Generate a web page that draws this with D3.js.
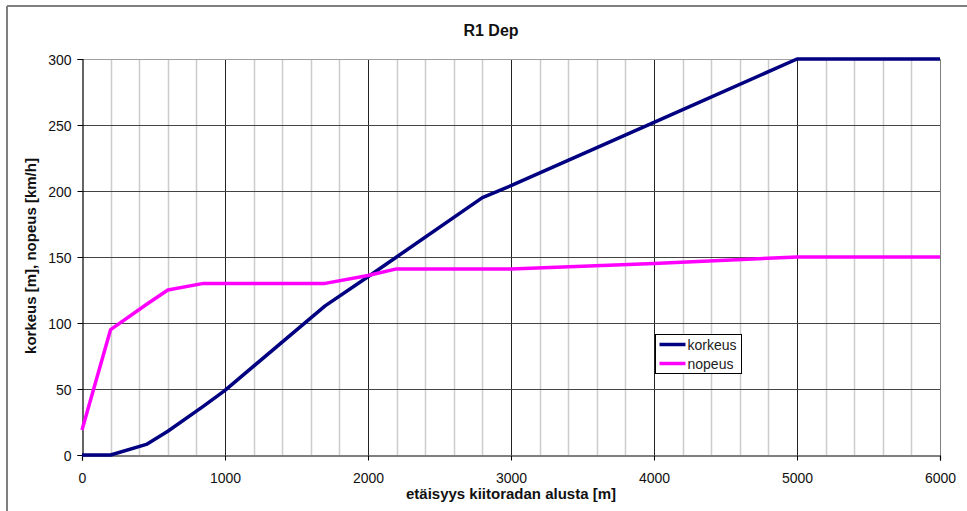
<!DOCTYPE html>
<html>
<head>
<meta charset="utf-8">
<script src="https://cdn.jsdelivr.net/npm/d3@7/dist/d3.min.js"></script>
<style>
  html, body { margin: 0; padding: 0; background: #fff; }
  svg { display: block; font-family: "Liberation Sans", Arial, sans-serif; }
</style>
</head>
<body>
<svg id="chart" width="967" height="511"></svg>
<script>
// Distance along the runway [m]
const distance = [0, 200, 450, 600, 850, 1000, 1700, 2000, 2200, 2800, 3000, 4000, 5000, 6000];
// Altitude [m]
const korkeus  = [0, 0, 8, 18, 37, 49, 113, 135, 150, 195, 204, 252, 300, 300];
// Speed [km/h]
const nopeus   = [19, 95, 114, 125, 130, 130, 130, 136, 141, 141, 141, 145, 150, 150];

const xTicks = [0, 1000, 2000, 3000, 4000, 5000, 6000];
const yTicks = [0, 50, 100, 150, 200, 250, 300];

const seriesNames = ["korkeus", "nopeus"];
const seriesColors = ["#000080", "#ff00ff"];

const svg = d3.select("#chart");
const margin = { left: 82, right: 27, top: 59, bottom: 56 };
const W = 967, H = 511;

const x = d3.scaleLinear().domain([0, 6000]).range([margin.left, W - margin.right]);
const y = d3.scaleLinear().domain([0, 300]).range([H - margin.bottom, margin.top]);

// outer frame (top and left edges)
svg.append("line").attr("x1", 7).attr("x2", W).attr("y1", 6).attr("y2", 6)
  .attr("stroke", "#7f7f7f").attr("stroke-width", 2);
svg.append("line").attr("x1", 7).attr("x2", 7).attr("y1", 6).attr("y2", H)
  .attr("stroke", "#7f7f7f").attr("stroke-width", 2);

// minor vertical gridlines every 200 m
const minor = d3.range(200, 6000, 200).filter(d => d % 1000 !== 0);
svg.append("g").selectAll("line").data(minor).join("line")
  .attr("x1", d => Math.round(x(d)) + 0.5).attr("x2", d => Math.round(x(d)) + 0.5)
  .attr("y1", y(300)).attr("y2", y(0))
  .attr("stroke", "#cccccc").attr("stroke-width", 1.5);

// major vertical gridlines
svg.append("g").selectAll("line").data(xTicks.slice(1)).join("line")
  .attr("x1", d => Math.round(x(d)) + 0.5).attr("x2", d => Math.round(x(d)) + 0.5)
  .attr("y1", y(300)).attr("y2", y(0))
  .attr("stroke", d => d === 6000 ? "#808080" : "#222").attr("stroke-width", 1);

// horizontal gridlines
svg.append("g").selectAll("line").data(yTicks.slice(1)).join("line")
  .attr("x1", x(0)).attr("x2", x(6000))
  .attr("y1", d => Math.round(y(d)) + 0.5).attr("y2", d => Math.round(y(d)) + 0.5)
  .attr("stroke", d => d === 300 ? "#a0a0a0" : "#444").attr("stroke-width", 1.2);

// axes
const xAxis = d3.axisBottom(x).tickValues(xTicks).tickSize(5).tickPadding(13).tickFormat(d3.format("d"));
const yAxis = d3.axisLeft(y).tickValues(yTicks).tickSize(5).tickPadding(6).tickFormat(d3.format("d"));

const gx = svg.append("g").attr("transform", `translate(0,${Math.round(y(0)) + 0.5})`).call(xAxis);
const gy = svg.append("g").attr("transform", `translate(${Math.round(x(0)) + 0.5},0)`).call(yAxis);
[gx, gy].forEach(g => {
  g.select(".domain").attr("stroke", "#000").attr("stroke-width", 1.2);
  g.selectAll(".tick line").attr("stroke", "#000");
  g.selectAll(".tick text").attr("fill", "#111").attr("font-size", 14)
    .attr("font-family", "'Liberation Sans', Arial, sans-serif");
});
gy.selectAll(".tick text").attr("dy", "0.36em");

// series lines
const line = vals => d3.line().x((d, i) => x(distance[i])).y(d => y(d))(vals);
[korkeus, nopeus].forEach((vals, i) => {
  svg.append("path").attr("d", line(vals))
    .attr("fill", "none").attr("stroke", seriesColors[i])
    .attr("stroke-width", 3.5).attr("stroke-linejoin", "round");
});

// title and axis labels
svg.append("text").attr("x", 491).attr("y", 36).attr("text-anchor", "middle")
  .attr("font-weight", "bold").attr("font-size", 16).attr("fill", "#111").text("R1 Dep");
svg.append("text").attr("x", 511).attr("y", 499).attr("text-anchor", "middle")
  .attr("font-weight", "bold").attr("font-size", 15).attr("fill", "#111")
  .text("etäisyys kiitoradan alusta [m]");
svg.append("text").attr("transform", "translate(36,256) rotate(-90)").attr("text-anchor", "middle")
  .attr("font-weight", "bold").attr("font-size", 15).attr("fill", "#111")
  .text("korkeus [m], nopeus [km/h]");

// legend
const lg = svg.append("g").attr("transform", "translate(655.5,334.5)");
lg.append("rect").attr("width", 86).attr("height", 39)
  .attr("fill", "#fff").attr("stroke", "#000").attr("stroke-width", 1);
seriesNames.forEach((name, i) => {
  const yy = 10 + i * 19;
  lg.append("line").attr("x1", 4).attr("x2", 30).attr("y1", yy).attr("y2", yy)
    .attr("stroke", seriesColors[i]).attr("stroke-width", 3.5);
  lg.append("text").attr("x", 32).attr("y", yy + 5).attr("font-size", 14)
    .attr("fill", "#222").text(name);
});
</script>
</body>
</html>
